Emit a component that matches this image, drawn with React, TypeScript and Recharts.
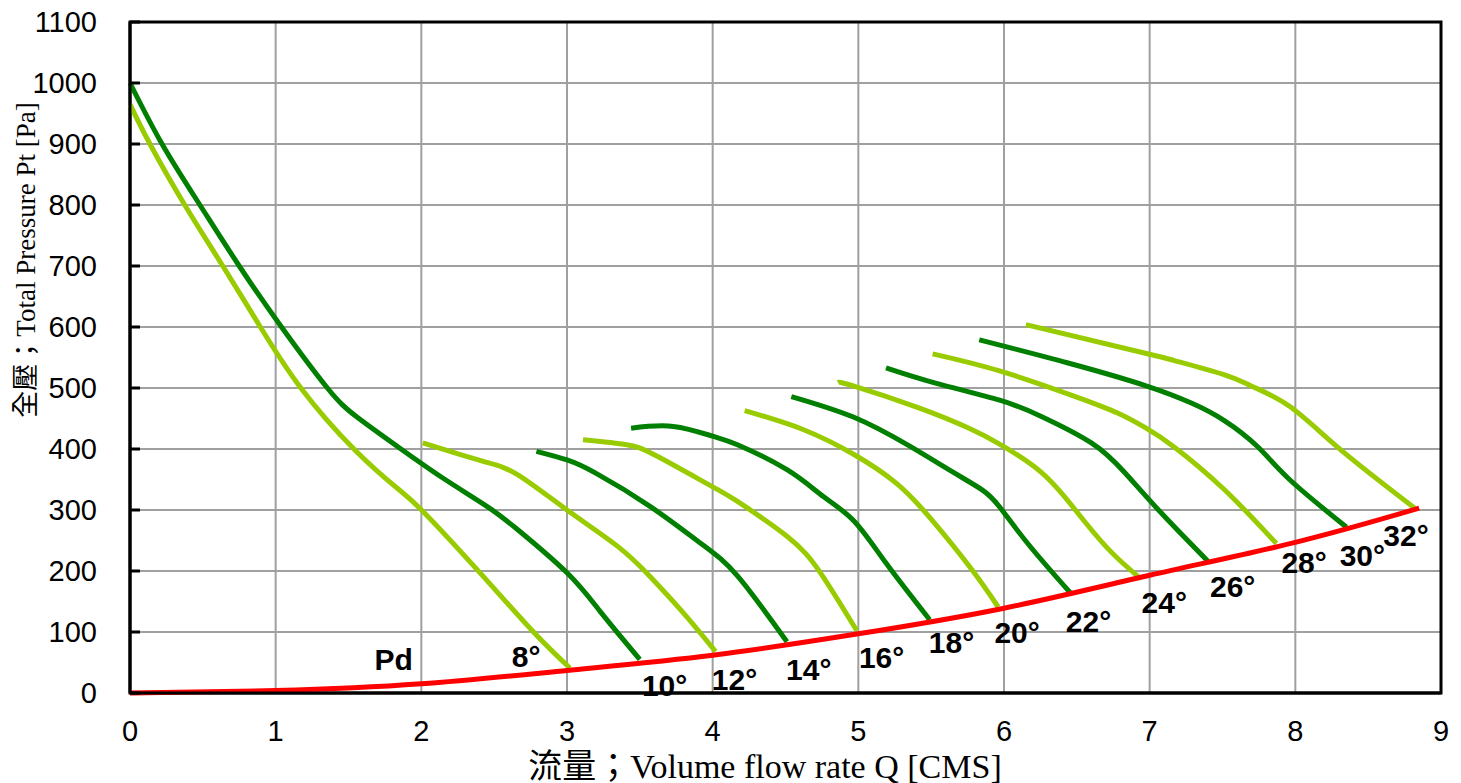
import { ComposedChart, Line, Scatter, XAxis, YAxis, CartesianGrid, ReferenceArea } from 'recharts'

// 動壓 Pd
const pd = [
    { q: 0, p: 0 },
    { q: 1, p: 4 },
    { q: 2, p: 15 },
    { q: 3, p: 37 },
    { q: 4, p: 62 },
    { q: 5, p: 97 },
    { q: 6, p: 139 },
    { q: 7, p: 193 },
    { q: 8, p: 247 },
    { q: 8.85, p: 303 },
]

const deg8 = [
    { q: 0, p: 965 },
    { q: 0.137, p: 900 },
    { q: 0.376, p: 800 },
    { q: 0.637, p: 700 },
    { q: 0.895, p: 600 },
    { q: 1.173, p: 500 },
    { q: 1.537, p: 400 },
    { q: 1.833, p: 336 },
    { q: 2.01, p: 298 },
    { q: 2.38, p: 203 },
    { q: 2.77, p: 100 },
    { q: 3.02, p: 41 },
]
const deg10 = [
    { q: 0, p: 1000 },
    { q: 0.22, p: 900 },
    { q: 0.48, p: 800 },
    { q: 0.75, p: 700 },
    { q: 1.04, p: 600 },
    { q: 1.355, p: 500 },
    { q: 1.56, p: 452 },
    { q: 1.86, p: 400 },
    { q: 2.15, p: 352 },
    { q: 2.45, p: 306 },
    { q: 2.66, p: 268 },
    { q: 3.0, p: 197 },
    { q: 3.23, p: 133 },
    { q: 3.5, p: 55 },
]
const deg12 = [
    { q: 2.01, p: 410 },
    { q: 2.42, p: 380 },
    { q: 2.66, p: 358 },
    { q: 3.0, p: 300 },
    { q: 3.35, p: 240 },
    { q: 3.57, p: 191 },
    { q: 3.8, p: 131 },
    { q: 4.02, p: 68 },
]
const deg14 = [
    { q: 2.79, p: 396 },
    { q: 3.0, p: 382 },
    { q: 3.2, p: 360 },
    { q: 3.57, p: 306 },
    { q: 3.92, p: 245 },
    { q: 4.17, p: 192 },
    { q: 4.51, p: 84 },
]
const deg16 = [
    { q: 3.11, p: 415 },
    { q: 3.41, p: 407 },
    { q: 3.62, p: 388 },
    { q: 4.0, p: 338 },
    { q: 4.17, p: 314 },
    { q: 4.51, p: 257 },
    { q: 4.74, p: 197 },
    { q: 4.99, p: 102 },
]
const deg18 = [
    { q: 3.44, p: 434 },
    { q: 3.73, p: 437 },
    { q: 4.0, p: 421 },
    { q: 4.17, p: 407 },
    { q: 4.51, p: 366 },
    { q: 4.76, p: 322 },
    { q: 4.97, p: 282 },
    { q: 5.19, p: 213 },
    { q: 5.49, p: 120 },
]
const deg20 = [
    { q: 4.22, p: 463 },
    { q: 4.62, p: 432 },
    { q: 4.97, p: 391 },
    { q: 5.26, p: 344 },
    { q: 5.5, p: 285 },
    { q: 5.78, p: 202 },
    { q: 5.96, p: 141 },
]
const deg22 = [
    { q: 4.54, p: 486 },
    { q: 4.97, p: 452 },
    { q: 5.35, p: 405 },
    { q: 5.65, p: 362 },
    { q: 5.85, p: 333 },
    { q: 5.97, p: 305 },
    { q: 6.17, p: 243 },
    { q: 6.46, p: 163 },
]
const deg24 = [
    { q: 4.86, p: 509 },
    { q: 4.97, p: 503 },
    { q: 5.42, p: 467 },
    { q: 5.76, p: 434 },
    { q: 5.97, p: 408 },
    { q: 6.26, p: 361 },
    { q: 6.49, p: 300 },
    { q: 6.72, p: 235 },
    { q: 6.94, p: 187 },
]
const deg26 = [
    { q: 5.19, p: 533 },
    { q: 5.53, p: 508 },
    { q: 5.97, p: 480 },
    { q: 6.26, p: 453 },
    { q: 6.6, p: 410 },
    { q: 6.83, p: 361 },
    { q: 7.08, p: 295 },
    { q: 7.4, p: 216 },
]
const deg28 = [
    { q: 5.51, p: 556 },
    { q: 5.97, p: 528 },
    { q: 6.49, p: 486 },
    { q: 6.78, p: 459 },
    { q: 6.97, p: 435 },
    { q: 7.17, p: 403 },
    { q: 7.51, p: 334 },
    { q: 7.87, p: 245 },
]
const deg30 = [
    { q: 5.83, p: 579 },
    { q: 6.44, p: 541 },
    { q: 6.97, p: 504 },
    { q: 7.29, p: 475 },
    { q: 7.51, p: 447 },
    { q: 7.74, p: 404 },
    { q: 7.96, p: 350 },
    { q: 8.35, p: 272 },
]
const deg32 = [
    { q: 6.15, p: 604 },
    { q: 6.97, p: 557 },
    { q: 7.17, p: 545 },
    { q: 7.51, p: 522 },
    { q: 7.7, p: 503 },
    { q: 7.96, p: 470 },
    { q: 8.31, p: 399 },
    { q: 8.82, p: 303 },
]

const curves = [
    { name: '8°', data: deg8, light: true },
    { name: '10°', data: deg10, light: false },
    { name: '12°', data: deg12, light: true },
    { name: '14°', data: deg14, light: false },
    { name: '16°', data: deg16, light: true },
    { name: '18°', data: deg18, light: false },
    { name: '20°', data: deg20, light: true },
    { name: '22°', data: deg22, light: false },
    { name: '24°', data: deg24, light: true },
    { name: '26°', data: deg26, light: false },
    { name: '28°', data: deg28, light: true },
    { name: '30°', data: deg30, light: false },
    { name: '32°', data: deg32, light: true },
]

// curve labels (text placed at q/p)
const labels = [
    { q: 1.81, p: 55, text: 'Pd' },
    { q: 2.72, p: 60, text: '8°' },
    { q: 3.67, p: 12, text: '10°' },
    { q: 4.15, p: 22, text: '12°' },
    { q: 4.66, p: 38, text: '14°' },
    { q: 5.16, p: 58, text: '16°' },
    { q: 5.64, p: 82, text: '18°' },
    { q: 6.09, p: 99, text: '20°' },
    { q: 6.58, p: 117, text: '22°' },
    { q: 7.1, p: 148, text: '24°' },
    { q: 7.57, p: 174, text: '26°' },
    { q: 8.06, p: 214, text: '28°' },
    { q: 8.46, p: 225, text: '30°' },
    { q: 8.76, p: 258, text: '32°' },
]

const xTicks = [0, 1, 2, 3, 4, 5, 6, 7, 8, 9]
const yTicks = [0, 100, 200, 300, 400, 500, 600, 700, 800, 900, 1000, 1100]

const LIGHT = '#99cc00'
const DARK = '#007f00'
const sans = "'Liberation Sans', Arial, sans-serif"
const serif = "'Liberation Serif', 'Noto Sans CJK TC', serif"

const YTick = (props: any) => {
    const { x, y, payload } = props
    return (
        <g>
            <line x1={x} x2={x + 10} y1={y} y2={y} stroke="#000" strokeWidth={3} />
            <text x={x - 33} y={y} textAnchor="end" dominantBaseline="central" fontFamily={sans} fontSize={29} fill="#000">
                {payload.value}
            </text>
        </g>
    )
}

const XTick = (props: any) => {
    const { x, y, payload } = props
    return (
        <text x={x} y={y + 38} textAnchor="middle" dominantBaseline="central" fontFamily={sans} fontSize={29} fill="#000">
            {payload.value}
        </text>
    )
}

const LabelText = (props: any) => {
    const { cx, cy, payload } = props
    return (
        <text x={cx} y={cy} textAnchor="middle" dominantBaseline="central" fontFamily={sans} fontWeight="bold" fontSize={30} fill="#000">
            {payload.text}
        </text>
    )
}

export default function App() {
    return (
        <div style={{ position: 'absolute', left: 0, top: 0, background: '#fff' }}>
            <ComposedChart width={1461} height={783} margin={{ top: 22, right: 20, bottom: 60, left: 0 }}>
                <CartesianGrid stroke="#a0a0a0" strokeWidth={2} />
                <XAxis
                    type="number"
                    dataKey="q"
                    domain={[0, 9]}
                    ticks={xTicks}
                    height={30}
                    tickLine={false}
                    tickSize={0}
                    tickMargin={0}
                    axisLine={{ stroke: '#000', strokeWidth: 3 }}
                    tick={<XTick />}
                    label={{
                        content: () => (
                            <text x={765} y={766} textAnchor="middle" dominantBaseline="central" fontFamily={serif} fontSize={34} fill="#000">
                                流量；Volume flow rate Q [CMS]
                            </text>
                        ),
                    }}
                />
                <YAxis
                    type="number"
                    domain={[0, 1100]}
                    ticks={yTicks}
                    width={130}
                    tickLine={false}
                    tickSize={0}
                    tickMargin={0}
                    axisLine={{ stroke: '#000', strokeWidth: 3 }}
                    tick={<YTick />}
                    label={{
                        content: () => (
                            <text x={26} y={260} transform="rotate(-90 26 260)" textAnchor="middle" dominantBaseline="central" fontFamily={serif} fontSize={27} fill="#000">
                                全壓；Total Pressure Pt [Pa]
                            </text>
                        ),
                    }}
                />
                <ReferenceArea x1={0} x2={9} y1={0} y2={1100} fill="none" stroke="#000" strokeWidth={3} />
                {curves.map((c) => (
                    <Line
                        key={c.name}
                        data={c.data}
                        dataKey="p"
                        type="natural"
                        stroke={c.light ? LIGHT : DARK}
                        strokeWidth={5}
                        dot={false}
                        activeDot={false}
                        isAnimationActive={false}
                    />
                ))}
                <Line data={pd} dataKey="p" type="natural" stroke="#ff0000" strokeWidth={5} dot={false} activeDot={false} isAnimationActive={false} />
                <Scatter data={labels} dataKey="p" shape={<LabelText />} isAnimationActive={false} />
            </ComposedChart>
        </div>
    )
}
